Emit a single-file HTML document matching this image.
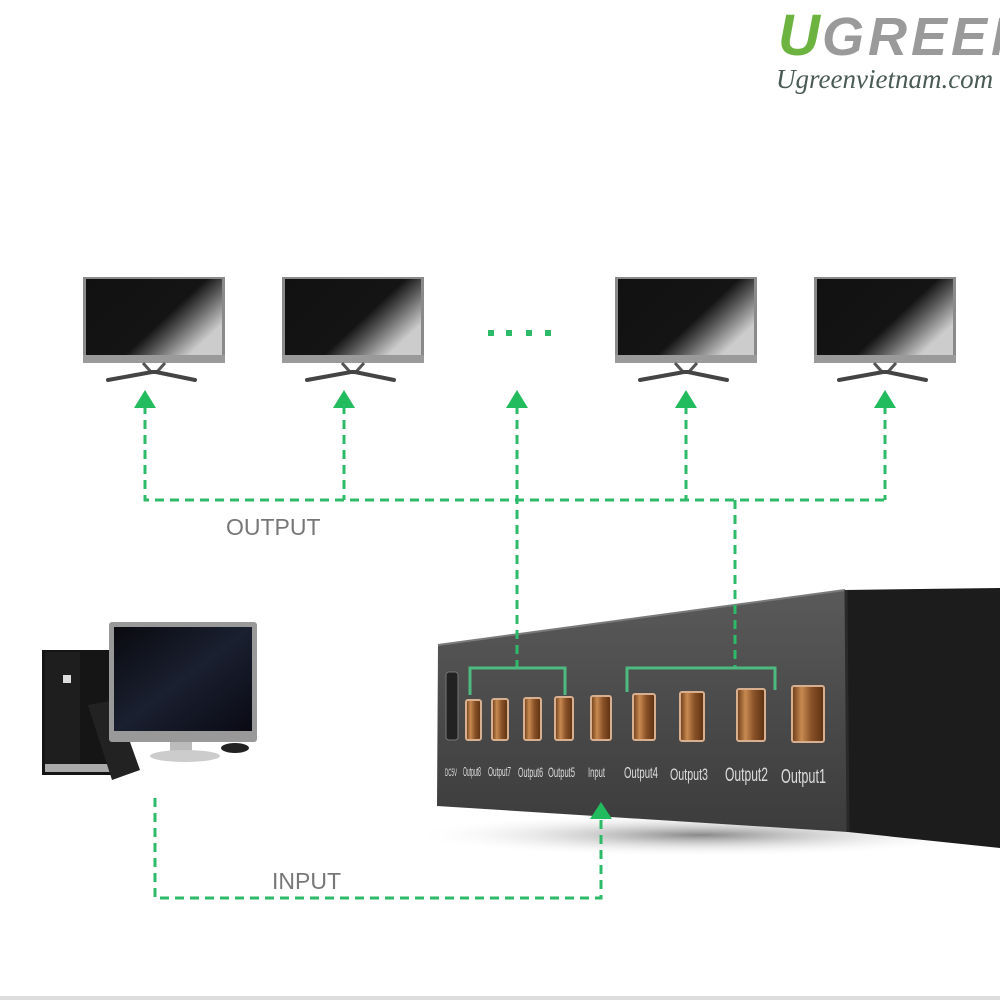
<!DOCTYPE html>
<html><head><meta charset="utf-8"><style>
html,body{margin:0;padding:0;background:#fff;}
svg{display:block;}
</style></head><body>
<svg width="1000" height="1000" viewBox="0 0 1000 1000" xmlns="http://www.w3.org/2000/svg">
<defs>
<linearGradient id="scr" x1="0" y1="0" x2="1" y2="0.6">
<stop offset="0" stop-color="#111"/><stop offset="0.65" stop-color="#141414"/><stop offset="0.78" stop-color="#555"/><stop offset="1" stop-color="#ccc"/>
</linearGradient>
<linearGradient id="front" x1="0" y1="0" x2="0" y2="1">
<stop offset="0" stop-color="#5a5a5a"/><stop offset="0.5" stop-color="#4a4a4a"/><stop offset="1" stop-color="#3c3c3c"/>
</linearGradient>
<linearGradient id="port" x1="0" y1="0" x2="1" y2="0">
<stop offset="0" stop-color="#6a3a18"/><stop offset="0.3" stop-color="#c88a50"/><stop offset="0.6" stop-color="#8a5228"/><stop offset="1" stop-color="#5a3010"/>
</linearGradient>
<radialGradient id="shadow" cx="0.5" cy="0.5" r="0.5">
<stop offset="0" stop-color="#555" stop-opacity="0.7"/><stop offset="1" stop-color="#fff" stop-opacity="0"/>
</radialGradient>
<linearGradient id="pcs" x1="0" y1="0" x2="1" y2="1">
<stop offset="0" stop-color="#0a0a10"/><stop offset="0.5" stop-color="#1a2030"/><stop offset="1" stop-color="#0a0a14"/>
</linearGradient>
</defs>

<!-- logo -->
<text x="778" y="55" font-family="Liberation Sans, sans-serif" font-weight="bold" font-style="italic" font-size="58" fill="#6cb33f">U</text>
<text x="822" y="55" font-family="Liberation Sans, sans-serif" font-weight="bold" font-style="italic" font-size="54" fill="#9a9a9a" letter-spacing="4">GREEN</text>
<text x="776" y="88" font-family="Liberation Serif, serif" font-style="italic" font-size="27" fill="#4a5a55">Ugreenvietnam.com</text>

<!-- monitors -->
<g id="mon">
<rect x="83" y="277" width="142" height="86" fill="#8a8a8a"/>
<rect x="86" y="279" width="136" height="76" fill="url(#scr)"/>
<rect x="83" y="355" width="142" height="8" fill="#9a9a9a"/>
<path d="M143 363 L152 373 M165 363 L156 373" stroke="#555" stroke-width="3"/>
<path d="M108 380 L152 372 L156 372 L195 380" stroke="#444" stroke-width="4" fill="none" stroke-linecap="round"/>
</g>
<use href="#mon" x="199"/>
<use href="#mon" x="532"/>
<use href="#mon" x="731"/>

<!-- dots -->
<g fill="#2dbb6a">
<rect x="488" y="330" width="6" height="6"/><rect x="506" y="330" width="6" height="6"/>
<rect x="526" y="330" width="6" height="6"/><rect x="545" y="330" width="6" height="6"/>
</g>

<!-- box shadow -->
<ellipse cx="700" cy="835" rx="290" ry="22" fill="url(#shadow)"/>
<!-- box -->
<polygon points="845,590 1000,588 1000,848 848,832" fill="#1c1c1c"/>
<polygon points="438,645 845,590 848,832 437,806" fill="url(#front)"/>
<path d="M438 645 L845 590" stroke="#7a7a7a" stroke-width="2"/>
<line x1="846" y1="590" x2="848" y2="832" stroke="#2a2a2a" stroke-width="3"/>
<!-- dc jack -->
<rect x="446" y="672" width="12" height="68" rx="3" fill="#222" stroke="#777"/>
<!-- ports -->
<g stroke="#d8b090" stroke-width="2">
<rect x="466" y="700" width="15" height="40" rx="2" fill="url(#port)"/>
<rect x="492" y="699" width="16" height="41" rx="2" fill="url(#port)"/>
<rect x="524" y="698" width="17" height="42" rx="2" fill="url(#port)"/>
<rect x="555" y="697" width="18" height="43" rx="2" fill="url(#port)"/>
<rect x="591" y="696" width="20" height="44" rx="2" fill="url(#port)"/>
<rect x="633" y="694" width="22" height="46" rx="2" fill="url(#port)"/>
<rect x="680" y="692" width="24" height="49" rx="2" fill="url(#port)"/>
<rect x="737" y="689" width="28" height="52" rx="2" fill="url(#port)"/>
<rect x="792" y="686" width="32" height="56" rx="2" fill="url(#port)"/>
</g>
<g font-family="Liberation Sans Narrow, Liberation Sans, sans-serif" fill="#ddd" lengthAdjust="spacingAndGlyphs">
<text x="445" y="776" font-size="11" textLength="12" lengthAdjust="spacingAndGlyphs">DC5V</text>
<text x="463" y="776" font-size="13" textLength="18" lengthAdjust="spacingAndGlyphs">Output8</text>
<text x="488" y="776" font-size="13" textLength="23" lengthAdjust="spacingAndGlyphs">Output7</text>
<text x="518" y="777" font-size="14" textLength="25" lengthAdjust="spacingAndGlyphs">Output6</text>
<text x="548" y="777" font-size="14" textLength="27" lengthAdjust="spacingAndGlyphs">Output5</text>
<text x="588" y="777" font-size="14" textLength="17" lengthAdjust="spacingAndGlyphs">Input</text>
<text x="624" y="778" font-size="16" textLength="34" lengthAdjust="spacingAndGlyphs">Output4</text>
<text x="670" y="780" font-size="17" textLength="38" lengthAdjust="spacingAndGlyphs">Output3</text>
<text x="725" y="781" font-size="19" textLength="43" lengthAdjust="spacingAndGlyphs">Output2</text>
<text x="781" y="783" font-size="20" textLength="45" lengthAdjust="spacingAndGlyphs">Output1</text>
</g>

<!-- PC -->
<g>
<rect x="42" y="650" width="75" height="125" fill="#151515"/>
<rect x="45" y="652" width="35" height="118" fill="#1e1e1e"/>
<rect x="45" y="764" width="70" height="8" fill="#aaa"/>
<rect x="63" y="675" width="8" height="8" fill="#ddd"/>
<polygon points="88,705 115,700 140,770 112,780" fill="#222"/>
<rect x="109" y="622" width="148" height="120" rx="3" fill="#999"/>
<rect x="114" y="627" width="138" height="104" fill="url(#pcs)"/>
<rect x="170" y="742" width="22" height="10" fill="#bbb"/>
<ellipse cx="185" cy="756" rx="35" ry="6" fill="#ccc"/>
<ellipse cx="235" cy="748" rx="14" ry="5" fill="#222"/>
</g>

<!-- connectors -->
<g stroke="#2dbb6a" stroke-width="3" fill="none" stroke-dasharray="9 6">
<path d="M145 405 V500 H885"/>
<path d="M344 405 V500"/>
<path d="M686 405 V500"/>
<path d="M885 405 V500"/>
<path d="M517 405 V670"/>
<path d="M735 500 V668"/>
<path d="M155 798 V898 H601 V818"/>
</g>
<g stroke="#4dbb80" stroke-width="3" fill="none">
<path d="M470 695 V668 H565 V695"/>
<path d="M627 692 V668 H775 V690"/>
</g>
<g fill="#22bb5e">
<polygon points="145,390 134,408 156,408"/>
<polygon points="344,390 333,408 355,408"/>
<polygon points="517,390 506,408 528,408"/>
<polygon points="686,390 675,408 697,408"/>
<polygon points="885,390 874,408 896,408"/>
<polygon points="601,802 590,819 612,819"/>
</g>

<text x="226" y="535" font-family="Liberation Sans, sans-serif" font-size="23" fill="#777">OUTPUT</text>
<text x="272" y="889" font-family="Liberation Sans, sans-serif" font-size="23" fill="#777">INPUT</text>

<rect x="0" y="996" width="1000" height="4" fill="#ddd"/>
</svg>
</body></html>
